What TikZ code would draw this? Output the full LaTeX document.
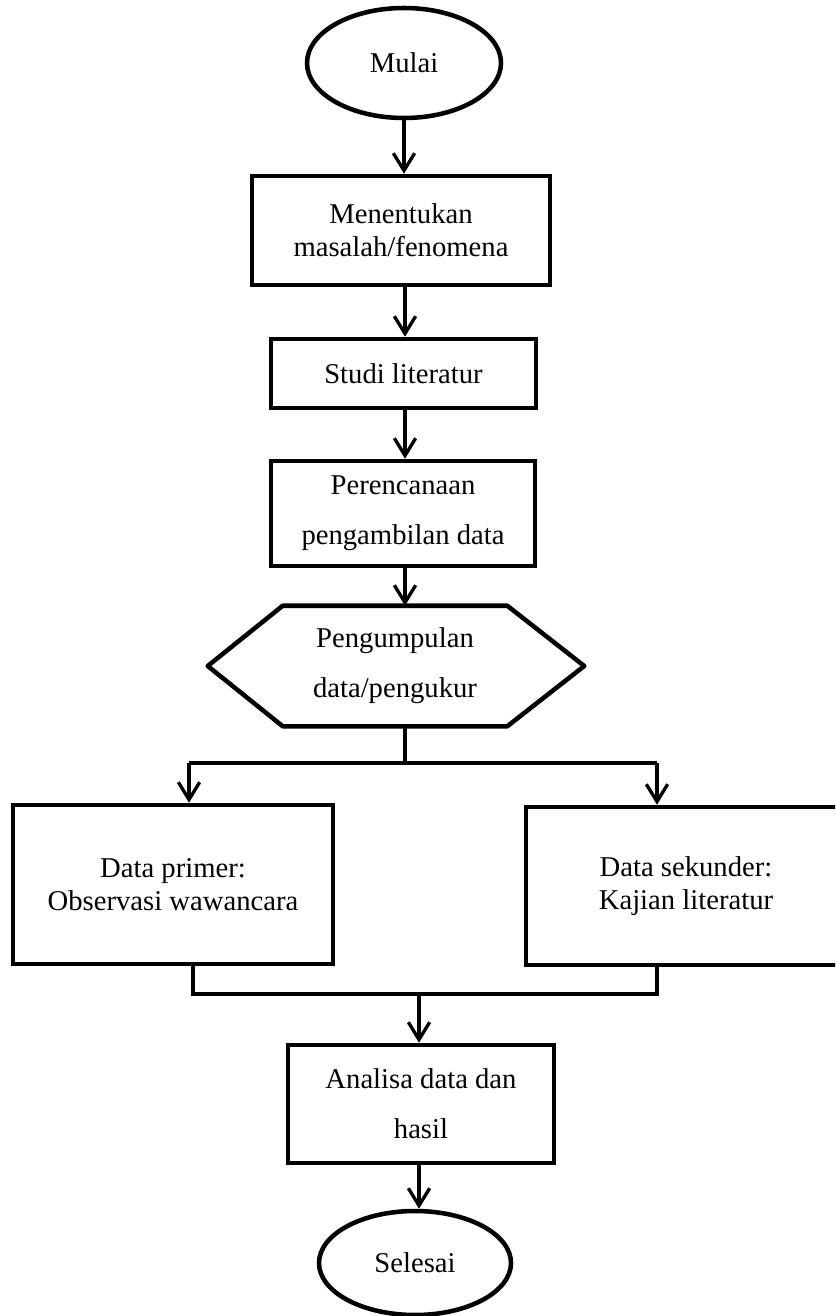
\documentclass[tikz,border=0pt]{standalone}
\usepackage{fontspec}
\setmainfont{Liberation Serif}
\usetikzlibrary{arrows.meta,calc,shapes.geometric}
\tikzset{
  lbl/.style={font=\fontsize{21.5}{24.75}\selectfont, align=center, inner sep=0pt},
  wide/.style={font=\fontsize{21.5}{37.5}\selectfont},
  boxnode/.style={lbl, draw, line width=3.4pt, rectangle},
  ovalnode/.style={lbl, draw, line width=3.4pt, ellipse},
  plainnode/.style={lbl},
  conn/.style={line width=2.5pt},
  arr/.style={conn, -{Straight Barb[length=13pt,width=16pt]}},
}
\begin{document}
\begin{tikzpicture}[x=0.75pt,y=-0.75pt]
\clip (0,0) rectangle (835,1316);
\fill[white] (0,0) rectangle (835,1316);

\node[ovalnode, minimum width=145.5pt, minimum height=82.5pt] (mulai) at (404,63) {Mulai};
\node[boxnode, minimum width=223.5pt, minimum height=81.75pt] (b1) at (401,230.5) {Menentukan\\masalah/fenomena};
\node[boxnode, minimum width=198.75pt, minimum height=51.75pt] (b2) at (403.5,373.5) {Studi literatur};
\node[boxnode, wide, minimum width=198pt, minimum height=78.75pt] (b3) at (403,513.5) {Perencanaan\\pengambilan data};
\node[plainnode, wide, minimum width=168pt, minimum height=90pt] (hex) at (395,666) {Pengumpulan\\data/pengukur};
\draw[line width=3.4pt, line join=round] (hex.north west) -- (hex.north east) -- ($(hex.east)+(77,0)$) -- (hex.south east) -- (hex.south west) -- ($(hex.west)+(-75,0)$) -- cycle;
\node[boxnode, minimum width=240pt, minimum height=119.25pt] (prim) at (173,884.5) {Data primer:\\Observasi wawancara};
\node[boxnode, minimum width=240pt, minimum height=118.5pt] (sek) at (686,886) {Data sekunder:\\Kajian literatur};
\node[boxnode, wide, minimum width=199.5pt, minimum height=88.5pt] (ana) at (421,1104) {Analisa data dan\\hasil};
\node[ovalnode, minimum width=144pt, minimum height=78pt] (sel) at (415,1263) {Selesai};

\coordinate (c1) at (405,300);
\coordinate (c2) at (405,420);
\coordinate (c3) at (405,580);
\coordinate (c4) at (405,740);
\coordinate (sl) at (189,763);
\coordinate (sr) at (657,763);
\coordinate (ml) at (193,994);
\coordinate (mr) at (657,994);
\coordinate (mc) at (419,994);
\coordinate (ax) at (419,1163);

\draw[arr] (mulai.south) -- (mulai.south |- b1.north);
\draw[arr] (c1 |- b1.south) -- (c1 |- b2.north);
\draw[arr] (c2 |- b2.south) -- (c2 |- b3.north);
\draw[arr] (c3 |- b3.south) -- (c3 |- hex.north);
\draw[conn] (c4 |- hex.south) -- (c4 |- sl);
\draw[conn] (sl) -- (sr);
\draw[arr] (sl) -- (sl |- prim.north);
\draw[arr] (sr) -- (sr |- sek.north);
\draw[conn] (ml |- prim.south) -- (ml) -- (mr) -- (mr |- sek.south);
\draw[arr] (mc) -- (mc |- ana.north);
\draw[arr] (ax |- ana.south) -- (ax |- sel.north);
\end{tikzpicture}
\end{document}
